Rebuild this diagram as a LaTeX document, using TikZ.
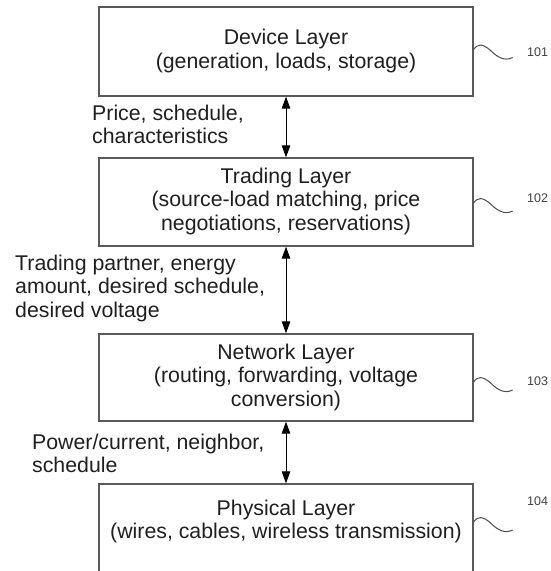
\documentclass[tikz,border=0pt]{standalone}
\usepackage{fontspec}
\setmainfont{Liberation Sans}
\usetikzlibrary{arrows.meta,calc}
\begin{document}
\begin{tikzpicture}[x=1pt,y=-1pt,
  layer/.style={draw=black!65, line width=1.3pt, minimum width=374pt, inner sep=0pt},
  body/.style={font=\fontsize{21.3}{23.5}\selectfont, align=center, inner sep=0pt, anchor=base, text=black!88},
  note/.style={font=\fontsize{21.3}{23.5}\selectfont, align=left, inner sep=0pt, anchor=base west, text=black!88},
  refnum/.style={font=\fontsize{12.5}{14}\selectfont, inner sep=0pt, anchor=base west, text=black!75},
  link/.style={{Triangle[length=12pt,width=8.5pt]}-{Triangle[length=12pt,width=8.5pt]}, line width=1pt},
  leader/.style={line width=1pt, black!70}
]
\useasboundingbox (0,0) rectangle (551,571);

% layer boxes
\node[layer, minimum height=89pt] (dev) at (286,51.5) {};
\node[layer, minimum height=88pt] (trd) at (286,202) {};
\node[layer, minimum height=87pt] (net) at (286,377.5) {};
\node[layer, minimum height=88pt] (phy) at (286,528) {};

% layer titles (anchored at the baseline of the last line)
\node[body] (devt) at (286,68) {Device Layer\\(generation, loads, storage)};
\node[body] (trdt) at (286,230) {Trading Layer\\(source-load matching, price\\negotiations, reservations)};
\node[body] (nett) at (286,406) {Network Layer\\(routing, forwarding, voltage\\conversion)};
\node[body] (phyt) at (286,538.5) {Physical Layer\\(wires, cables, wireless transmission)};

% exchanges between layers
\draw[link] (dev.south) -- (trd.north);
\draw[link] (trd.south) -- (net.north);
\draw[link] (net.south) -- (phy.north);

\node[note] (n1) at (92,143.5) {Price, schedule,\\characteristics};
\node[note] (n2) at (15,317) {Trading partner, energy\\amount, desired schedule,\\desired voltage};
\node[note] (n3) at (32,472.5) {Power/current, neighbor,\\schedule};

% reference numerals with wavy leaders
\coordinate (s1) at (dev.east |- 0,49.5);
\coordinate (s2) at (trd.east |- 0,203);
\coordinate (s3) at (net.east |- 0,382);
\coordinate (s4) at (phy.east |- 0,522);
\foreach \s in {s1,s2,s3,s4}
  \draw[leader] (\s) .. controls ($(\s)+(4,-6)$) and ($(\s)+(9,-6)$) .. ($(\s)+(17,1)$)
                .. controls ($(\s)+(24,8)$) and ($(\s)+(31,12)$) .. ($(\s)+(39,8)$);
\node[refnum] (r1) at (527,56) {101};
\node[refnum] (r2) at (527,202) {102};
\node[refnum] (r3) at (527,385) {103};
\node[refnum] (r4) at (527,505) {104};
\end{tikzpicture}
\end{document}
